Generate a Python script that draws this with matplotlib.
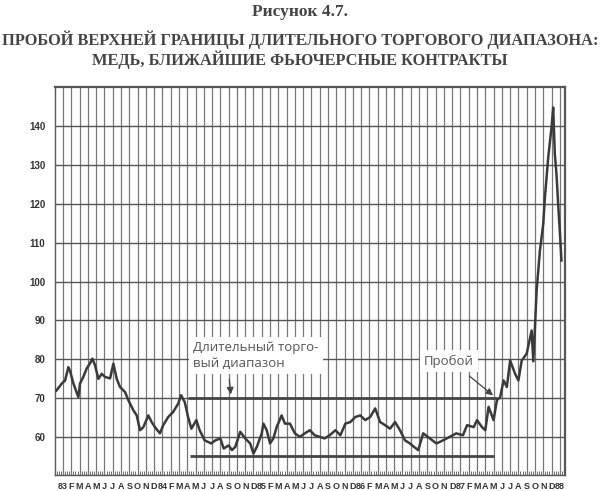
import matplotlib
matplotlib.use("Agg")
import matplotlib.pyplot as plt
from matplotlib.ticker import MultipleLocator, FixedLocator

# months counted from Jan 1983 (0) to Jan 1988 (60)
months = [-0.8, -0.15, 0.25, 0.64, 0.85, 1.25, 1.85, 2.05, 2.45, 2.86, 3.26, 3.54, 3.86, 4.27,
          4.67, 5.07, 5.68, 6.08, 6.48, 6.88, 7.49, 7.89, 8.5, 8.9, 9.3, 9.7, 10.3, 10.7,
          11.1, 11.7, 12.1, 12.7, 13.3, 13.9, 14.25, 14.7, 15.1, 15.5, 16.1, 16.5, 17.1,
          17.9, 18.4, 19.0, 19.4, 20.0, 20.4, 20.8, 21.4, 22.0, 22.6, 23.0, 23.4, 24.0,
          24.2, 24.6, 25.0, 25.4, 25.8, 26.4, 26.8, 27.4, 28.0, 28.6, 29.2, 29.8, 30.4,
          31.0, 31.6, 32.2, 32.9, 33.5, 34.1, 34.7, 35.3, 35.9, 36.5, 37.1, 37.7, 38.3,
          38.9, 39.5, 40.1, 40.7, 41.3, 41.9, 42.4, 42.9, 43.5, 44.3, 45.1, 45.9, 46.7,
          47.5, 48.3, 48.8, 49.6, 50.0, 50.6, 51.0, 51.4, 52.0, 52.4, 52.8, 53.2, 53.6,
          54.0, 54.6, 55.0, 55.4, 56.0, 56.6, 56.8, 57.0, 57.2, 57.6, 58.0, 58.2, 58.6,
          59.0, 59.2, 59.4, 59.6, 59.8, 60.0, 60.2]
prices = [72.0, 73.8, 74.6, 78.0, 77.0, 73.8, 70.3, 73.8, 75.5, 77.7, 79.0, 80.2, 78.5, 75.0,
          76.3, 75.5, 75.1, 78.9, 75.0, 72.9, 71.6, 69.5, 66.9, 65.6, 61.8, 62.6, 65.6, 63.9,
          62.6, 61.0, 63.1, 65.2, 66.5, 68.6, 70.8, 69.0, 65.2, 62.2, 64.4, 61.8, 59.2,
          58.4, 59.2, 59.7, 57.1, 57.9, 56.7, 57.5, 61.4, 59.7, 58.4, 55.8, 57.5, 61.0,
          63.5, 61.8, 58.4, 59.7, 62.6, 65.6, 63.5, 63.5, 61.0, 60.1, 61.0, 61.8, 60.5,
          60.1, 59.7, 60.5, 61.8, 60.5, 63.5, 63.9, 65.2, 65.6, 64.4, 65.2, 67.4, 63.9,
          63.1, 62.2, 63.9, 61.8, 59.2, 58.4, 57.5, 56.7, 61.0, 59.7, 58.4, 59.2, 60.1,
          61.0, 60.5, 63.1, 62.6, 64.4, 62.6, 61.8, 67.8, 64.4, 69.5, 70.3, 74.6, 72.9,
          79.7, 76.3, 74.6, 79.7, 81.5, 87.4, 79.5, 88.3, 97.7, 108.0, 114.8, 121.6, 131.9,
          139.6, 144.7, 132.7, 127.6, 119.9, 113.0, 105.4]

month_labels = ["83"] + list("FMAMJJASOND") + ["84"] + list("FMAMJJASOND") + \
               ["85"] + list("FMAMJJASOND") + ["86"] + list("FMAMJJASOND") + \
               ["87"] + list("FMAMJJASOND") + ["88"]
y_ticks = [60, 70, 80, 90, 100, 110, 120, 130, 140]

# trading range boundaries
range_top = 70
range_bottom = 55.2
range_start = 15.1
range_end = 52.4

fig = plt.figure(figsize=(6, 4.91), dpi=100)
ax = fig.add_axes([0.0917, 0.0326, 0.85, 0.7904])

# grid
for m in range(61):
    ax.axvline(m, color="#777777", lw=0.9, zorder=1)
for v in y_ticks:
    ax.axhline(v, color="#555555", lw=1.0, zorder=1)

ax.plot(months, prices, color="#3a3a3a", lw=1.8, zorder=4)

ax.hlines(range_top, range_start, range_end, color="#444444", lw=2.0, zorder=3)
ax.hlines(range_bottom, range_start + 0.2, range_end - 0.4, color="#444444", lw=2.0, zorder=3)

ax.set_xlim(-0.97, 60.63)
ax.set_ylim(50.3, 150)

ax.xaxis.set_major_locator(FixedLocator(range(61)))
ax.set_xticklabels(month_labels, fontsize=6.5, fontweight="bold", family="Liberation Sans",
                   color="#333333")
ax.xaxis.set_minor_locator(MultipleLocator(0.25))
ax.tick_params(axis="x", which="major", length=0, pad=5)
ax.tick_params(axis="x", which="minor", direction="in", length=3, color="#555555")
ax.set_yticks(y_ticks)
ax.set_yticklabels([str(v) for v in y_ticks], fontsize=7, fontweight="bold",
                   family="Liberation Sans", color="#333333")
ax.tick_params(axis="y", length=0, pad=7)

for side in ["left", "bottom"]:
    ax.spines[side].set_color("#555555")
    ax.spines[side].set_linewidth(1.0)
for side in ["top", "right"]:
    ax.spines[side].set_color("#555555")
    ax.spines[side].set_linewidth(1.6)

box = dict(facecolor="white", edgecolor="none", pad=3)
ax.text(15.7, 81.0, "Длительный торго-\nвый диапазон", fontsize=9.5, color="#555555",
        family="Open Sans", ha="left", va="center", linespacing=1.25, bbox=box, zorder=5)
ax.text(46.6, 79.5, "Пробой", fontsize=9.5, color="#555555", family="Open Sans",
        ha="center", va="center", bbox=box, zorder=5)
ax.annotate("", xy=(20.3, 70.3), xytext=(20.05, 75.6),
            arrowprops=dict(arrowstyle="-|>", color="#444444", lw=0.9, mutation_scale=10),
            zorder=6)
ax.annotate("", xy=(52.2, 70.3), xytext=(48.8, 76.2),
            arrowprops=dict(arrowstyle="-|>", color="#444444", lw=0.9, mutation_scale=10),
            zorder=6)

fig.text(0.5, 0.9756, "Рисунок 4.7.", ha="center", va="center", fontsize=12.5,
         fontweight="bold", family="Liberation Serif", color="#444444")
fig.text(0.5, 0.9185, "ПРОБОЙ ВЕРХНЕЙ ГРАНИЦЫ ДЛИТЕЛЬНОГО ТОРГОВОГО ДИАПАЗОНА:",
         ha="center", va="center", fontsize=11.8, fontweight="bold",
         family="Liberation Serif", color="#444444")
fig.text(0.5, 0.878, "МЕДЬ, БЛИЖАЙШИЕ ФЬЮЧЕРСНЫЕ КОНТРАКТЫ", ha="center", va="center",
         fontsize=11.8, fontweight="bold", family="Liberation Serif", color="#444444")

fig.savefig("out.png", dpi=100)
